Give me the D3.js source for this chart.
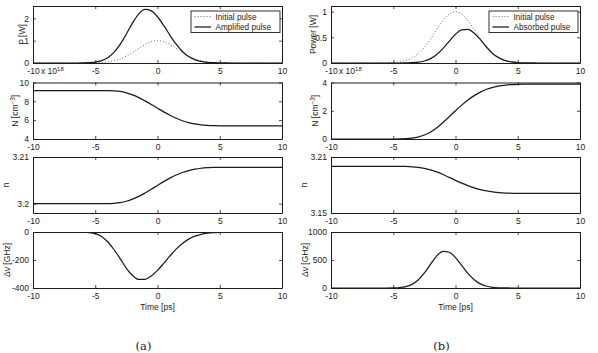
<!DOCTYPE html>
<html>
<head>
<meta charset="utf-8">
<script src="https://cdn.jsdelivr.net/npm/d3@7"></script>
<style>
	body { margin: 0; background: #fff; }
	svg { display: block; font-family: 'Liberation Sans', Arial, sans-serif; }
</style>
</head>
<body>
<div id="chart"></div>
<script>
// time axis, ps (sampled every 0.5 ps)
const timePs = [-10, -9.5, -9, -8.5, -8, -7.5, -7, -6.5, -6, -5.5, -5, -4.5, -4, -3.5, -3, -2.5, -2, -1.5, -1, -0.5,
	0, 0.5, 1, 1.5, 2, 2.5, 3, 3.5, 4, 4.5, 5, 5.5, 6, 6.5, 7, 7.5, 8, 8.5, 9, 9.5, 10]

// (a) amplifier
const initialPulse = [0, 0, 0, 0, 0, 0, 0, 0, 0.001, 0.003, 0.009, 0.022, 0.049, 0.099, 0.182, 0.307, 0.47, 0.654, 0.828, 0.954,
	1, 0.954, 0.828, 0.654, 0.47, 0.307, 0.182, 0.099, 0.049, 0.022, 0.009, 0.003, 0.001, 0, 0, 0, 0, 0, 0, 0, 0]
const amplifiedPulse = [0, 0, 0, 0, 0, 0, 0, 0, 0.004, 0.015, 0.042, 0.107, 0.238, 0.473, 0.832, 1.298, 1.795, 2.2, 2.394, 2.33,
	2.07, 1.68, 1.24, 0.84, 0.517, 0.29, 0.149, 0.07, 0.03, 0.012, 0.004, 0.001, 0, 0, 0, 0, 0, 0, 0, 0, 0]
const carrierA = [9.15, 9.15, 9.15, 9.15, 9.15, 9.15, 9.15, 9.15, 9.15, 9.15, 9.15, 9.15, 9.15, 9.12, 9.05, 8.9, 8.68, 8.4, 8.05, 7.67,
	7.27, 6.88, 6.52, 6.2, 5.94, 5.74, 5.6, 5.5, 5.45, 5.42, 5.4, 5.4, 5.4, 5.4, 5.4, 5.4, 5.4, 5.4, 5.4, 5.4, 5.4]
const indexA = [3.2, 3.2, 3.2, 3.2, 3.2, 3.2, 3.2, 3.2, 3.2, 3.2, 3.2, 3.2, 3.2, 3.20006, 3.20021, 3.20052, 3.20098, 3.20156, 3.20229, 3.20308,
	3.20391, 3.20472, 3.20547, 3.20614, 3.20668, 3.20709, 3.20738, 3.20759, 3.2077, 3.20776, 3.2078, 3.2078, 3.2078, 3.2078, 3.2078, 3.2078, 3.2078, 3.2078, 3.2078, 3.2078, 3.2078]
const chirpA = [0, 0, 0, 0, 0, 0, 0, 0, -1, -4, -12, -32, -70, -125, -190, -259, -311, -339, -338, -314,
	-274, -224, -171, -122, -82, -51, -30, -17, -8.5, -4, -1.8, -0.7, 0, 0, 0, 0, 0, 0, 0, 0, 0]

// (b) absorber
const absorbedPulse = [0, 0, 0, 0, 0, 0, 0, 0, 0, 0, 0, 0, 0.002, 0.005, 0.015, 0.039, 0.086, 0.167, 0.284, 0.425,
	0.559, 0.645, 0.653, 0.581, 0.454, 0.307, 0.182, 0.099, 0.047, 0.02, 0.007, 0.002, 0.001, 0, 0, 0, 0, 0, 0, 0, 0]
const carrierB = [0, 0, 0, 0, 0, 0, 0, 0, 0, 0, 0, 0.005, 0.02, 0.06, 0.14, 0.28, 0.5, 0.8, 1.17, 1.58,
	2.0, 2.4, 2.76, 3.07, 3.32, 3.52, 3.66, 3.76, 3.82, 3.85, 3.87, 3.88, 3.88, 3.88, 3.88, 3.88, 3.88, 3.88, 3.88, 3.88, 3.88]
const indexB = [3.2, 3.2, 3.2, 3.2, 3.2, 3.2, 3.2, 3.2, 3.2, 3.2, 3.2, 3.19996, 3.19985, 3.19955, 3.19895, 3.1979, 3.19625, 3.194, 3.19123, 3.18815,
	3.185, 3.182, 3.1793, 3.17698, 3.1751, 3.1736, 3.17255, 3.1718, 3.17135, 3.17113, 3.17098, 3.1709, 3.1709, 3.1709, 3.1709, 3.1709, 3.1709, 3.1709, 3.1709, 3.1709, 3.1709]
const chirpB = [0, 0, 0, 0, 0, 0, 0, 0, 0, 0, 2, 8, 25, 65, 143, 269, 426, 574, 655, 638,
	543, 403, 261, 148, 73, 31, 12, 4, 1, 0, 0, 0, 0, 0, 0, 0, 0, 0, 0, 0, 0]

// tick labels
const timeTicks = [-10, -5, 0, 5, 10]
const powerTicksA = [0, 1, 2]
const carrierTicksA = [4, 6, 8, 10]
const indexTicksA = [3.2, 3.21]
const chirpTicksA = [-400, -200, 0]
const powerTicksB = [0, 0.5, 1]
const carrierTicksB = [0, 2, 4]
const indexTicksB = [3.15, 3.21]
const chirpTicksB = [0, 500, 1000]

// layout
const W = 598, H = 353
const FONT = 8.5
const INK = '#1c1c1c'
const columns = [{ left: 33, right: 282 }, { left: 331, right: 580 }]
const rowTops = [6, 82.5, 157, 232]
const rowBottoms = [63, 139, 213, 288]

const panels = [
	{ col: 0, row: 0, yDomain: [0, 2.55], yTicks: powerTicksA, ylabel: 'P [W]', labelX: 25,
		series: [{ values: initialPulse, dotted: true, name: 'Initial pulse' }, { values: amplifiedPulse, name: 'Amplified pulse' }], legend: true },
	{ col: 0, row: 1, yDomain: [4, 10], yTicks: carrierTicksA, ylabel: 'N', labelX: 18, exponent: true,
		series: [{ values: carrierA }] },
	{ col: 0, row: 2, yDomain: [3.198, 3.21], yTicks: indexTicksA, ylabel: 'n', labelX: 9,
		series: [{ values: indexA }] },
	{ col: 0, row: 3, yDomain: [-400, 0], yTicks: chirpTicksA, ylabel: 'Δν [GHz]', labelX: 10, xTitle: true,
		series: [{ values: chirpA }] },
	{ col: 1, row: 0, yDomain: [0, 1.11], yTicks: powerTicksB, ylabel: 'Power [W]', labelX: 316,
		series: [{ values: initialPulse, dotted: true, name: 'Initial pulse' }, { values: absorbedPulse, name: 'Absorbed pulse' }], legend: true },
	{ col: 1, row: 1, yDomain: [0, 4], yTicks: carrierTicksB, ylabel: 'N', labelX: 318, exponent: true,
		series: [{ values: carrierB }] },
	{ col: 1, row: 2, yDomain: [3.15, 3.21], yTicks: indexTicksB, ylabel: 'n', labelX: 307,
		series: [{ values: indexB }] },
	{ col: 1, row: 3, yDomain: [0, 1000], yTicks: chirpTicksB, ylabel: 'Δν [GHz]', labelX: 308, xTitle: true,
		series: [{ values: chirpB }] },
]

const svg = d3.select('#chart').append('svg').attr('width', W).attr('height', H)

function styleAxis(g) {
	g.attr('font-size', FONT).attr('font-family', null)
	g.select('.domain').attr('stroke', INK).attr('stroke-width', 1)
	g.selectAll('.tick line').attr('stroke', INK).attr('stroke-width', 0.8)
	g.selectAll('.tick text').attr('fill', INK)
}

panels.forEach((p, k) => {
	const c = columns[p.col]
	const top = rowTops[p.row], bottom = rowBottoms[p.row]
	const x = d3.scaleLinear().domain([-10, 10]).range([c.left, c.right])
	const y = d3.scaleLinear().domain(p.yDomain).range([bottom, top])
	const g = svg.append('g').attr('class', 'panel')

	g.append('clipPath').attr('id', 'clip' + k)
		.append('rect').attr('x', c.left).attr('y', top).attr('width', c.right - c.left).attr('height', bottom - top)

	// curves
	const line = d3.line()
		.x((d, i) => x(timePs[i]))
		.y(d => y(d))
		.curve(d3.curveMonotoneX)
	p.series.forEach(s => {
		g.append('path')
			.attr('d', line(s.values))
			.attr('clip-path', 'url(#clip' + k + ')')
			.attr('fill', 'none')
			.attr('stroke', s.dotted ? '#555' : '#1a1a1a')
			.attr('stroke-width', s.dotted ? 0.9 : 1.25)
			.attr('stroke-dasharray', s.dotted ? '1,2' : null)
	})

	// box axes with inward ticks
	g.append('g').attr('transform', `translate(0,${bottom})`)
		.call(d3.axisBottom(x).tickValues(timeTicks).tickSize(-3).tickSizeOuter(0).tickPadding(5).tickFormat(d => String(d)))
		.call(styleAxis)
	g.append('g').attr('transform', `translate(0,${top})`)
		.call(d3.axisTop(x).tickValues(timeTicks).tickSize(-3).tickSizeOuter(0).tickFormat(''))
		.call(styleAxis)
	g.append('g').attr('transform', `translate(${c.left},0)`)
		.call(d3.axisLeft(y).tickValues(p.yTicks).tickSize(-3).tickSizeOuter(0).tickPadding(4).tickFormat(d => String(d)))
		.call(styleAxis)
	g.append('g').attr('transform', `translate(${c.right},0)`)
		.call(d3.axisRight(y).tickValues(p.yTicks).tickSize(-3).tickSizeOuter(0).tickFormat(''))
		.call(styleAxis)

	// y label
	const yl = g.append('text')
		.attr('transform', `translate(${p.labelX},${(top + bottom) / 2}) rotate(-90)`)
		.attr('text-anchor', 'middle')
		.attr('font-size', FONT)
		.attr('fill', INK)
	if (p.ylabel === 'N') {
		yl.append('tspan').text('N [cm')
		yl.append('tspan').attr('font-size', FONT * 0.75).attr('dy', -3.5).text('−3')
		yl.append('tspan').attr('dy', 3.5).text(']')
	} else {
		yl.text(p.ylabel)
	}

	// x 10^18 multiplier above the axes (just right of the -10 label)
	if (p.exponent) {
		const ex = g.append('text').attr('x', c.left + 8).attr('y', top - 9)
			.attr('font-size', FONT).attr('fill', INK)
		ex.append('tspan').text('x 10')
		ex.append('tspan').attr('font-size', FONT * 0.7).attr('dy', -3).text('18')
	}

	if (p.xTitle) {
		g.append('text')
			.attr('x', (c.left + c.right) / 2)
			.attr('y', bottom + 22)
			.attr('text-anchor', 'middle')
			.attr('font-size', FONT)
			.attr('fill', INK)
			.text('Time [ps]')
		g.append('text')
			.attr('x', (c.left + c.right) / 2 - 14)
			.attr('y', bottom + 62)
			.attr('text-anchor', 'middle')
			.attr('font-family', '"DejaVu Serif", "Liberation Serif", serif')
			.attr('font-size', 11.5)
			.attr('fill', INK)
			.text(p.col === 0 ? '(a)' : '(b)')
	}

	if (p.legend) {
		const lx = c.right - 91, ly = top + 5
		const lg = g.append('g').attr('class', 'legend')
		lg.append('rect').attr('x', lx).attr('y', ly).attr('width', 89).attr('height', 21.5)
			.attr('fill', '#fff').attr('stroke', INK).attr('stroke-width', 0.9)
		p.series.forEach((s, i) => {
			const cy = ly + 5.5 + i * 10.5
			lg.append('line').attr('x1', lx + 3.5).attr('x2', lx + 20).attr('y1', cy).attr('y2', cy)
				.attr('stroke', s.dotted ? '#555' : '#1a1a1a')
				.attr('stroke-width', s.dotted ? 0.9 : 1.25)
				.attr('stroke-dasharray', s.dotted ? '1,2' : null)
			lg.append('text').attr('x', lx + 24.5).attr('y', cy + 3)
				.attr('font-size', FONT - 0.3).attr('fill', INK).text(s.name)
		})
	}
})
</script>
</body>
</html>
